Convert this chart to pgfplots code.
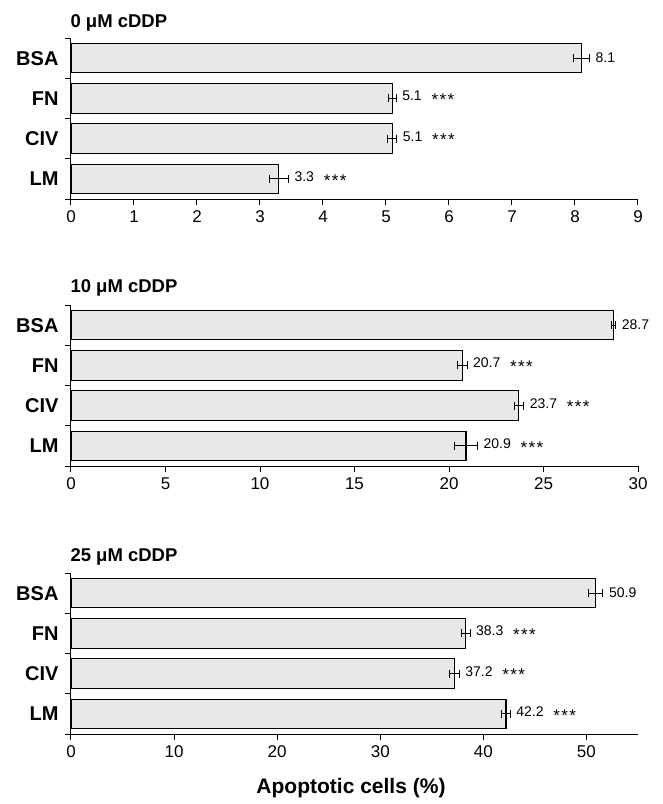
\documentclass[border=0pt]{standalone}
\usepackage{fontspec}
\setmainfont{Liberation Sans}
\usepackage{pgfplots}
\pgfplotsset{compat=1.18}
\usepackage{pgfplotstable}

\newcommand{\sig}{\hspace{0.7em}\raisebox{-4.6pt}{\fontsize{17}{19}\selectfont *\kern1.4pt*\kern1.4pt*}}

\pgfplotstableread{
y x err label
4 8.1 0.13 8.1
3 5.1 0.06 5.1\sig
2 5.1 0.07 5.1\sig
1 3.3 0.15 3.3\sig
}\tA
\pgfplotstableread{
y x err label
4 28.7 0.12 28.7
3 20.7 0.25 20.7\sig
2 23.7 0.25 23.7\sig
1 20.9 0.60 20.9\sig
}\tB
\pgfplotstableread{
y x err label
4 50.9 0.70 50.9
3 38.3 0.40 38.3\sig
2 37.2 0.45 37.2\sig
1 42.2 0.40 42.2\sig
}\tC

\pgfplotsset{
  panel/.style={
    scale only axis, width=567pt, height=161pt,
    anchor=south west,
    axis lines=left, axis line style={-, line width=1pt, black},
    xmin=0, ymin=0.5, ymax=4.5,
    tick align=outside, major tick length=6pt,
    tick style={line width=1pt, black},
    ytick={0.5,1.5,2.5,3.5,4.5}, yticklabels={},
    extra y ticks={1,2,3,4},
    extra y tick labels={LM,CIV,FN,BSA},
    extra y tick style={tick style={draw=none},
      yticklabel style={font=\fontsize{20}{22}\selectfont\bfseries, xshift=-3pt}},
    xticklabel style={font=\fontsize{17}{19}\selectfont, yshift=-2pt},
    /pgf/number format/assume math mode=true,
    clip=false,
  },
  bars/.style={xbar, bar width=0.73, fill=black!9, draw=black, line width=1.1pt,
    error bars/.cd, x dir=both, x explicit,
    error bar style={line width=0.9pt, black},
    error mark options={rotate=90, line width=0.9pt, mark size=4pt, black}},
  vals/.style={only marks, mark=*, mark options={draw=none, fill=none, mark size=0pt},
    nodes near coords, point meta=explicit symbolic,
    every node near coord/.append style={anchor=west, xshift=4pt, inner sep=2pt,
      font=\fontsize{14}{16}\selectfont, black}},
}

\begin{document}
\begin{tikzpicture}
\path[use as bounding box] (0,0) rectangle (662pt,-804pt);

\begin{axis}[panel, at={(71pt,-199pt)}, xmax=9, xtick={0,1,...,9}]
\addplot[bars] table[x=x, y=y, x error=err]{\tA};
\addplot[vals] table[x expr=\thisrow{x}+\thisrow{err}, y=y, meta=label]{\tA};
\end{axis}

\begin{axis}[panel, at={(71pt,-466pt)}, xmax=30, xtick={0,5,...,30}]
\addplot[bars] table[x=x, y=y, x error=err]{\tB};
\addplot[vals] table[x expr=\thisrow{x}+\thisrow{err}, y=y, meta=label]{\tB};
\end{axis}

\begin{axis}[panel, at={(71pt,-734pt)}, xmax=55, xtick={0,10,...,50}]
\addplot[bars] table[x=x, y=y, x error=err]{\tC};
\addplot[vals] table[x expr=\thisrow{x}+\thisrow{err}, y=y, meta=label]{\tC};
\end{axis}

\node[anchor=west, font=\fontsize{18.5}{20}\selectfont\bfseries] at (67pt,-23pt) {0 μM cDDP};
\node[anchor=west, font=\fontsize{18.5}{20}\selectfont\bfseries] at (67pt,-288pt) {10 μM cDDP};
\node[anchor=west, font=\fontsize{18.5}{20}\selectfont\bfseries] at (67pt,-557pt) {25 μM cDDP};
\node[font=\fontsize{21}{23}\selectfont\bfseries] at (351pt,-788pt) {Apoptotic cells (\%)};
\end{tikzpicture}
\end{document}
